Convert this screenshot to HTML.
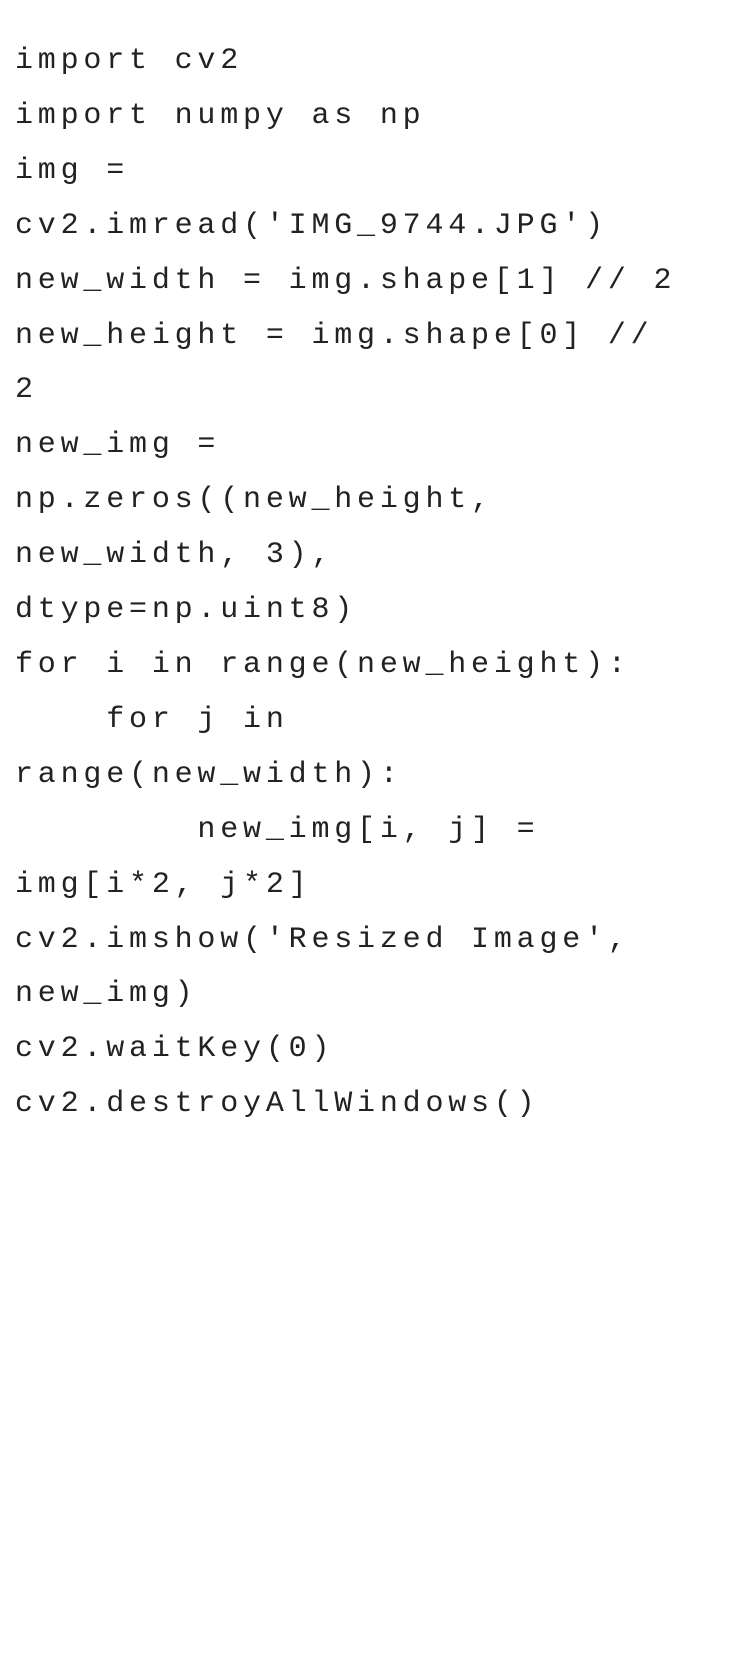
<!DOCTYPE html>
<html><head><meta charset="utf-8"><style>
html,body{margin:0;padding:0;background:#fff;}
body{width:729px;height:1657px;overflow:hidden;position:relative;}
pre{position:absolute;left:15px;top:34px;margin:0;font-family:"Liberation Mono",monospace;font-size:30px;letter-spacing:4.8px;line-height:54.9px;color:#222;}
</style></head><body>
<pre>import cv2
import numpy as np
img =
cv2.imread('IMG_9744.JPG')
new_width = img.shape[1] // 2
new_height = img.shape[0] //
2
new_img =
np.zeros((new_height,
new_width, 3),
dtype=np.uint8)
for i in range(new_height):
    for j in
range(new_width):
        new_img[i, j] =
img[i*2, j*2]
cv2.imshow('Resized Image',
new_img)
cv2.waitKey(0)
cv2.destroyAllWindows()</pre>
</body></html>
